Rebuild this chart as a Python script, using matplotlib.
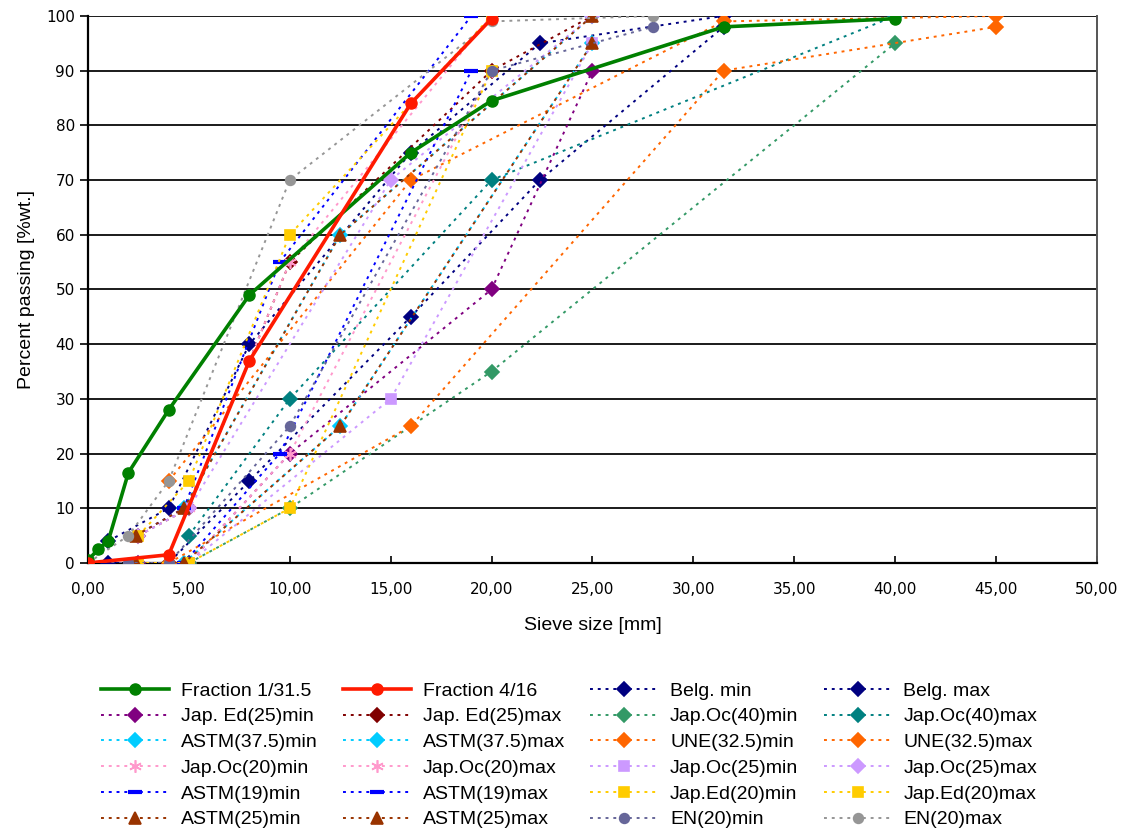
# -*- coding: utf-8 -*-

import matplotlib
matplotlib.use('Agg')
import matplotlib.pyplot as plt
from matplotlib.ticker import FuncFormatter

# sieve sizes [mm] and percent passing

frac_1_31_x = [0, 0.5, 1, 2, 4, 8, 16, 20, 31.5, 40]
frac_1_31_y = [0.5, 2.5, 4, 16.5, 28, 49, 75, 84.5, 98, 99.5]

frac_4_16_x = [0, 4, 8, 16, 20]
frac_4_16_y = [0, 1.5, 37, 84, 99.5]

belg_x = [1, 4, 8, 16, 22.4, 31.5]
belg_min = [0, 0, 15, 45, 70, 98]
belg_max = [4, 10, 40, 75, 95, 100]

jap_ed25_x = [2.5, 5, 10, 20, 25]
jap_ed25_min = [0, 0, 20, 50, 90]
jap_ed25_max = [5, 10, 55, 90, 100]

jap_oc40_x = [5, 10, 20, 40]
jap_oc40_min = [0, 10, 35, 95]
jap_oc40_max = [5, 30, 70, 100]

astm375_x = [4.75, 12.5, 25]
astm375_min = [0, 25, 95]
astm375_max = [10, 60, 100]

une_x = [4, 16, 31.5, 45]
une_min = [0, 25, 90, 98]
une_max = [15, 70, 99, 100]

jap_oc20_x = [2.5, 5, 10, 20]
jap_oc20_min = [0, 0, 20, 90]
jap_oc20_max = [5, 10, 55, 100]

jap_oc25_x = [2.5, 5, 15, 25]
jap_oc25_min = [0, 0, 30, 95]
jap_oc25_max = [5, 10, 70, 100]

astm19_x = [2.36, 4.75, 9.5, 19]
astm19_min = [0, 0, 20, 90]
astm19_max = [5, 10, 55, 100]

jap_ed20_x = [2.5, 5, 10, 20]
jap_ed20_min = [0, 0, 10, 90]
jap_ed20_max = [5, 15, 60, 100]

astm25_x = [2.36, 4.75, 12.5, 25]
astm25_min = [0, 0, 25, 95]
astm25_max = [5, 10, 60, 100]

en20_x = [0, 2, 4, 10, 20, 28]
en20_min = [0, 0, 0, 25, 90, 98]
en20_max = [0, 5, 15, 70, 99, 100]

# (label, x, y, color, marker, markersize) in legend reading order (row by row)
SERIES = [
    ('Fraction 1/31.5', frac_1_31_x, frac_1_31_y, '#008000', 'o', 8),
    ('Fraction 4/16', frac_4_16_x, frac_4_16_y, '#ff1a00', 'o', 8),
    ('Belg. min', belg_x, belg_min, '#000080', 'D', 7),
    ('Belg. max', belg_x, belg_max, '#000080', 'D', 7),
    ('Jap. Ed(25)min', jap_ed25_x, jap_ed25_min, '#800080', 'D', 7),
    ('Jap. Ed(25)max', jap_ed25_x, jap_ed25_max, '#800000', 'D', 7),
    ('Jap.Oc(40)min', jap_oc40_x, jap_oc40_min, '#339966', 'D', 7),
    ('Jap.Oc(40)max', jap_oc40_x, jap_oc40_max, '#008080', 'D', 7),
    ('ASTM(37.5)min', astm375_x, astm375_min, '#00ccff', 'D', 7),
    ('ASTM(37.5)max', astm375_x, astm375_max, '#00ccff', 'D', 7),
    ('UNE(32.5)min', une_x, une_min, '#ff6600', 'D', 7),
    ('UNE(32.5)max', une_x, une_max, '#ff6600', 'D', 7),
    ('Jap.Oc(20)min', jap_oc20_x, jap_oc20_min, '#ff99cc', (6, 2, 0), 9),
    ('Jap.Oc(20)max', jap_oc20_x, jap_oc20_max, '#ff99cc', (6, 2, 0), 9),
    ('Jap.Oc(25)min', jap_oc25_x, jap_oc25_min, '#cc99ff', 's', 7),
    ('Jap.Oc(25)max', jap_oc25_x, jap_oc25_max, '#cc99ff', 'D', 7),
    ('ASTM(19)min', astm19_x, astm19_min, '#0000ff', '_', 10),
    ('ASTM(19)max', astm19_x, astm19_max, '#0000ff', '_', 10),
    ('Jap.Ed(20)min', jap_ed20_x, jap_ed20_min, '#ffcc00', 's', 7),
    ('Jap.Ed(20)max', jap_ed20_x, jap_ed20_max, '#ffcc00', 's', 7),
    ('ASTM(25)min', astm25_x, astm25_min, '#993300', '^', 8),
    ('ASTM(25)max', astm25_x, astm25_max, '#993300', '^', 8),
    ('EN(20)min', en20_x, en20_min, '#666699', 'o', 7),
    ('EN(20)max', en20_x, en20_max, '#969696', 'o', 7),
]

SOLID = {'Fraction 1/31.5', 'Fraction 4/16'}

plt.rcParams['font.family'] = ['Liberation Sans', 'DejaVu Sans']

fig = plt.figure(figsize=(11.33, 8.39), dpi=100)
ax = fig.add_axes([0.0777, 0.329, 0.8903, 0.652])

# horizontal grid
for yv in range(10, 101, 10):
    ax.axhline(yv, color='#1a1a1a', lw=1.4, zorder=1)

handles = []
for label, xs, ys, color, marker, ms in SERIES:
    if label in SOLID:
        h, = ax.plot(xs, ys, color=color, lw=2.6, marker=marker, ms=ms,
                     label=label, zorder=5)
    else:
        mew = 3 if marker == '_' else 1.2
        h, = ax.plot(xs, ys, color=color, lw=1.4, ls=(0, (1.5, 2.5)),
                     marker=marker, ms=ms, mew=mew, label=label, zorder=3)
    handles.append(h)

ax.set_xlim(0, 50)
ax.set_ylim(0, 100)
ax.set_xticks(range(0, 51, 5))
ax.set_yticks(range(0, 101, 10))
ax.xaxis.set_major_formatter(FuncFormatter(lambda v, p: f'{v:.2f}'.replace('.', ',')))

for lab in ax.get_xticklabels() + ax.get_yticklabels():
    lab.set_fontfamily('DejaVu Sans')
ax.tick_params(axis='x', direction='in', length=5, width=1.2, labelsize=11, pad=14)
ax.tick_params(axis='y', direction='out', length=6, width=1.2, labelsize=11)

ax.spines['top'].set_visible(False)
ax.spines['left'].set_linewidth(1.6)
ax.spines['bottom'].set_linewidth(1.6)
ax.spines['right'].set_color('#555555')
ax.spines['right'].set_linewidth(1.4)

ax.set_xlabel('Sieve size [mm]', fontsize=14, labelpad=14)
ax.set_ylabel('Percent passing [%wt.]', fontsize=14, labelpad=8)

# legend is read row by row, matplotlib fills column by column
order = [r * 4 + c for c in range(4) for r in range(6)]
fig.legend([handles[i] for i in order], [SERIES[i][0] for i in order],
           ncol=4, loc='upper left', bbox_to_anchor=(0.074, 0.208),
           frameon=False, fontsize=14, handlelength=3.5,
           columnspacing=1.3, labelspacing=0.42, handletextpad=0.6)

fig.savefig('out.png', dpi=100)
